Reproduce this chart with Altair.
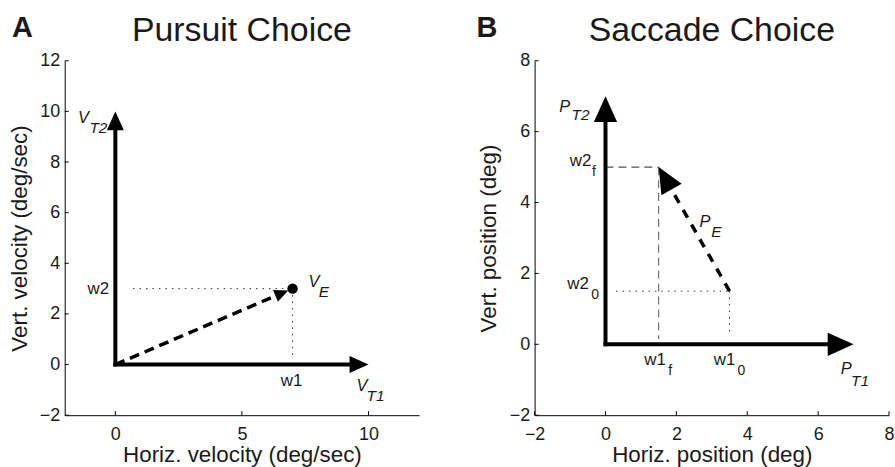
import math
import altair as alt
import pandas as pd

FONT = "Liberation Sans"
INK = "#000000"
TXT = "#1a1a1a"
W = 356
H = 356

# ---------------- Panel A : Pursuit Choice ----------------
a_letter = "A"
a_title = "Pursuit Choice"
a_xdomain = [-2, 12]
a_ydomain = [-2, 12]
a_xticks = [0, 5, 10]
a_yticks = [-2, 0, 2, 4, 6, 8, 10, 12]
a_xtitle = "Horiz. velocity (deg/sec)"
a_ytitle = "Vert. velocity (deg/sec)"
a_origin = [0, 0]
a_t1 = [10, 0]      # V_T1 arrow tip
a_t2 = [0, 10]      # V_T2 arrow tip
a_eye = [7, 3]      # V_E point (w1, w2)
a_eye_tip = [6.83, 2.93]
a_dot_h = [0.7, 6.85]   # dotted horizontal extent at y = w2
a_dot_v = [3, 0.25]     # dotted vertical extent at x = w1

# ---------------- Panel B : Saccade Choice ----------------
b_letter = "B"
b_title = "Saccade Choice"
b_xdomain = [-2, 8]
b_ydomain = [-2, 8]
b_xticks = [-2, 0, 2, 4, 6, 8]
b_yticks = [-2, 0, 2, 4, 6, 8]
b_xtitle = "Horiz. position (deg)"
b_ytitle = "Vert. position (deg)"
b_origin = [0, 0]
b_t1 = [7, 0]       # P_T1 arrow tip
b_t2 = [0, 7]       # P_T2 arrow tip
b_start = [3.5, 1.5]  # (w1_0, w2_0)
b_final = [1.5, 5]    # (w1_f, w2_f)


def df(**cols):
    return pd.DataFrame({k: (v if isinstance(v, list) else [v]) for k, v in cols.items()})


def make_panel(xd, yd, xticks, yticks, xtitle, ytitle, ytitle_x):
    sx = W / (xd[1] - xd[0])
    sy = H / (yd[1] - yd[0])
    xs = alt.Scale(domain=xd, nice=False, zero=False)
    ys = alt.Scale(domain=yd, nice=False, zero=False)
    xaxis = alt.Axis(values=xticks, ticks=False, grid=False, domainColor=INK, domainWidth=1,
                     labelFont=FONT, labelFontSize=18, labelColor=TXT, labelPadding=10,
                     labelFlush=False, labelOverlap=False, format="d",
                     title=xtitle, titleFont=FONT, titleFontSize=22.5, titleFontWeight="normal",
                     titleColor=TXT, titleX=W / 2, titleY=47, titleAlign="center",
                     titleBaseline="alphabetic")
    yaxis = alt.Axis(values=yticks, ticks=False, grid=False, domainColor=INK, domainWidth=1,
                     labelFont=FONT, labelFontSize=18, labelColor=TXT, labelPadding=5,
                     labelFlush=False, labelOverlap=False, format="d",
                     title=ytitle, titleFont=FONT, titleFontSize=22.5, titleFontWeight="normal",
                     titleColor=TXT, titleX=ytitle_x, titleY=H / 2, titleAngle=270,
                     titleAlign="center", titleBaseline="middle")

    def X(f):
        return alt.X(f, type="quantitative", scale=xs, axis=xaxis)

    def Y(f):
        return alt.Y(f, type="quantitative", scale=ys, axis=yaxis)

    layers = []
    # inward y ticks
    layers.append(
        alt.Chart(df(x=[xd[0]] * len(yticks), x2=[xd[0] + 4 / sx] * len(yticks), y=yticks))
        .mark_rule(color=INK, strokeWidth=1)
        .encode(x=X("x"), x2="x2", y=Y("y"))
    )
    # inward x ticks
    layers.append(
        alt.Chart(df(x=xticks, y=[yd[0]] * len(xticks), y2=[yd[0] + 4 / sy] * len(xticks)))
        .mark_rule(color=INK, strokeWidth=1)
        .encode(x=X("x"), y=Y("y"), y2="y2")
    )

    def seg(x0, y0, x1, y1, **style):
        return (alt.Chart(df(x=x0, y=y0, x2=x1, y2=y1)).mark_rule(**style)
                .encode(x=X("x"), y=Y("y"), x2="x2", y2="y2"))

    def arrow(p0, tip, L, dash=None, width=4):
        px = (tip[0] - p0[0]) * sx
        py = (tip[1] - p0[1]) * sy
        d = math.hypot(px, py)
        f = 0.7 * L / d
        bx = tip[0] - (tip[0] - p0[0]) * f
        by = tip[1] - (tip[1] - p0[1]) * f
        style = dict(color=INK, strokeWidth=width)
        if dash:
            style["strokeDash"] = dash
            style["strokeCap"] = "butt"
        else:
            style["strokeCap"] = "square"
        ang = math.degrees(math.atan2(px, py)) % 360
        stem = seg(p0[0], p0[1], bx, by, **style)
        head = (alt.Chart(df(x=tip[0], y=tip[1], a=ang))
                .mark_point(shape="M0,0L0.45,1L-0.45,1Z", filled=True, color=INK, opacity=1,
                            strokeWidth=0, size=(2 * L) ** 2)
                .encode(x=X("x"), y=Y("y"), angle=alt.Angle("a:Q", scale=None)))
        return [stem, head]

    def dot(x, y, size):
        return (alt.Chart(df(x=x, y=y)).mark_circle(size=size, color=INK, opacity=1)
                .encode(x=X("x"), y=Y("y")))

    def label(x, y, text, dx, dy, size=17, italic=False):
        return (alt.Chart(df(x=x, y=y, t=text))
                .mark_text(dx=dx, dy=dy, font=FONT, fontSize=size,
                           fontStyle="italic" if italic else "normal",
                           align="center", baseline="middle", color=TXT)
                .encode(x=X("x"), y=Y("y"), text="t:N"))

    def header(letter, title, letter_x):
        return [
            alt.Chart(df(t=letter)).mark_text(font=FONT, fontSize=29, fontWeight="bold",
                                              align="center", baseline="alphabetic", color=TXT)
            .encode(x=alt.value(letter_x), y=alt.value(-24), text="t:N"),
            alt.Chart(df(t=title)).mark_text(font=FONT, fontSize=34, fontWeight="normal",
                                             align="center", baseline="alphabetic", color=TXT)
            .encode(x=alt.value(W / 2), y=alt.value(-20), text="t:N"),
        ]

    return layers, seg, arrow, dot, label, header


# ---------------- build panel A ----------------
la, seg, arrow, dot, label, header = make_panel(a_xdomain, a_ydomain, a_xticks, a_yticks,
                                                a_xtitle, a_ytitle, -45)
la.append(seg(a_dot_h[0], a_eye[1], a_dot_h[1], a_eye[1], color="#333", strokeWidth=1,
              strokeDash=[1.5, 5]))
la.append(seg(a_eye[0], a_dot_v[0], a_eye[0], a_dot_v[1], color="#333", strokeWidth=1,
              strokeDash=[1.5, 5]))
la += arrow(a_origin, a_t1, 19)
la += arrow(a_origin, a_t2, 19)
la += arrow(a_origin, a_eye_tip, 14, dash=[10, 6], width=3.5)
la.append(dot(a_eye[0], a_eye[1], 110))
la.append(label(0, a_eye[1], "w2", -17, 0))
la.append(label(a_eye[0], 0, "w1", -1, 17))
la.append(label(a_t2[0], a_t2[1], "V", -32, 7, 16.5, True))
la.append(label(a_t2[0], a_t2[1], "T2", -17, 16.5, 15.5, True))
la.append(label(a_t1[0], a_t1[1], "V", -6.5, 21.5, 16.5, True))
la.append(label(a_t1[0], a_t1[1], "T1", 7, 31.5, 15.5, True))
la.append(label(a_eye[0], a_eye[1], "V", 21.5, -7, 16.5, True))
la.append(label(a_eye[0], a_eye[1], "E", 31.5, 3, 15.5, True))
la += header(a_letter, a_title, -42.5)
panel_a = alt.layer(*la).properties(width=W, height=H)

# ---------------- build panel B ----------------
lb, seg, arrow, dot, label, header = make_panel(b_xdomain, b_ydomain, b_xticks, b_yticks,
                                                b_xtitle, b_ytitle, -46)
lb.append(seg(0, b_final[1], b_final[0], b_final[1], color="#222", strokeWidth=1,
              strokeDash=[8, 5]))
lb.append(seg(b_final[0], b_final[1], b_final[0], 0.15, color="#555", strokeWidth=1,
              strokeDash=[8, 5]))
lb.append(seg(0.3, b_start[1], b_start[0], b_start[1], color="#333", strokeWidth=1,
              strokeDash=[1.5, 5]))
lb.append(seg(b_start[0], b_start[1], b_start[0], 0.25, color="#333", strokeWidth=1,
              strokeDash=[1.5, 5]))
lb += arrow(b_origin, b_t1, 26)
lb += arrow(b_origin, b_t2, 26)
lb += arrow(b_start, b_final, 26, dash=[9, 8], width=3.5)
lb.append(label(b_t2[0], b_t2[1], "P", -41, 10.5, 16.5, True))
lb.append(label(b_t2[0], b_t2[1], "T2", -25, 18.5, 15.5, True))
lb.append(label(b_t1[0], b_t1[1], "P", -7.5, 25, 16.5, True))
lb.append(label(b_t1[0], b_t1[1], "T1", 6.5, 36.5, 15.5, True))
mid = [(b_start[0] + b_final[0]) / 2, (b_start[1] + b_final[1]) / 2]
lb.append(label(mid[0], mid[1], "P", 11, -7.5, 16.5, True))
lb.append(label(mid[0], mid[1], "E", 22.5, 3, 15.5, True))
lb.append(label(0, b_final[1], "w2", -25, -6))
lb.append(label(0, b_final[1], "f", -11.5, 5, 14))
lb.append(label(0, b_start[1], "w2", -27.5, -7))
lb.append(label(0, b_start[1], "0", -10.5, 4, 14))
lb.append(label(b_final[0], 0, "w1", -3.5, 16))
lb.append(label(b_final[0], 0, "f", 11.5, 27, 14))
lb.append(label(b_start[0], 0, "w1", -5, 16))
lb.append(label(b_start[0], 0, "0", 12, 27, 14))
lb += header(b_letter, b_title, -48)
panel_b = alt.layer(*lb).properties(width=W, height=H)

chart = (
    alt.hconcat(panel_a, panel_b, spacing=57)
    .properties(padding={"left": 9, "top": 13, "right": 0, "bottom": 0}, background="white")
    .configure_view(stroke=None)
)
chart.save("out.html", embed_options={"renderer": "svg", "actions": False})
